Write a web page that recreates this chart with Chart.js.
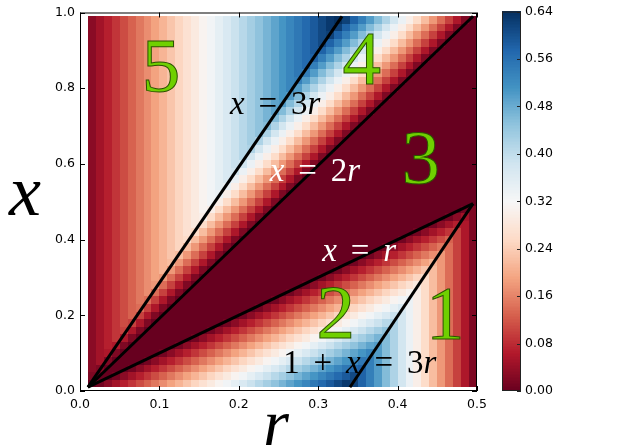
<!DOCTYPE html>
<html>
<head>
<meta charset="utf-8">
<script src="https://cdn.jsdelivr.net/npm/chart.js@4.4.1/dist/chart.umd.min.js"></script>
<style>
  html, body { margin: 0; padding: 0; background: #fff; }
  #wrap { position: relative; width: 640px; height: 448px; }
  #wrap canvas { position: absolute; left: 0; top: 0; }
</style>
</head>
<body>
<div id="wrap">
  <canvas id="heat" width="640" height="448"></canvas>
  <canvas id="cbar" width="640" height="448"></canvas>
</div>
<script>
// axis ticks
const rTicks = [0.0, 0.1, 0.2, 0.3, 0.4, 0.5];
const xTicks = [0.0, 0.2, 0.4, 0.6, 0.8, 1.0];
const cbTicks = [0.00, 0.08, 0.16, 0.24, 0.32, 0.40, 0.48, 0.56, 0.64];
const CB_MAX = 0.64;

// cell centres of the grid (r across, x from top row down)
const rCenters = [0.015,0.025,0.035,0.045,0.055,0.065,0.075,0.085,0.095,0.105,0.115,0.125,0.135,0.145,0.155,0.165,0.175,0.185,0.195,0.205,0.215,0.225,0.235,0.245,0.255,0.265,0.275,0.285,0.295,0.305,0.315,0.325,0.335,0.345,0.355,0.365,0.375,0.385,0.395,0.405,0.415,0.425,0.435,0.445,0.455,0.465,0.475,0.485,0.495];
const xCenters = [0.98,0.96,0.94,0.92,0.90,0.88,0.86,0.84,0.82,0.80,0.78,0.76,0.74,0.72,0.70,0.68,0.66,0.64,0.62,0.60,0.58,0.56,0.54,0.52,0.50,0.48,0.46,0.44,0.42,0.40,0.38,0.36,0.34,0.32,0.30,0.28,0.26,0.24,0.22,0.20,0.18,0.16,0.14,0.12,0.10,0.08,0.06,0.04,0.02];
const R_HALF = 0.005, X_HALF = 0.01;

// cell values in hundredths, one row per xCenters entry
const heat = [
  [3,5,7,9,11,13,15,17,19,21,23,25,27,29,31,33,35,37,39,41,43,45,47,49,51,53,55,57,59,61,63,65, 62,58,54,50,46,42,38,34,30,26,22,18,14,10,6,2, 0],
  [3,5,7,9,11,13,15,17,19,21,23,25,27,29,31,33,35,37,39,41,43,45,47,49,51,53,55,57,59,61,63, 62,58,54,50,46,42,38,34,30,26,22,18,14,10,6,2, 0,0],
  [3,5,7,9,11,13,15,17,19,21,23,25,27,29,31,33,35,37,39,41,43,45,47,49,51,53,55,57,59,61, 62,58,54,50,46,42,38,34,30,26,22,18,14,10,6,2, 0,0,0],
  [3,5,7,9,11,13,15,17,19,21,23,25,27,29,31,33,35,37,39,41,43,45,47,49,51,53,55,57,59,61, 58,54,50,46,42,38,34,30,26,22,18,14,10,6,2, 0,0,0,0],
  [3,5,7,9,11,13,15,17,19,21,23,25,27,29,31,33,35,37,39,41,43,45,47,49,51,53,55,57,59, 58,54,50,46,42,38,34,30,26,22,18,14,10,6,2, 0,0,0,0,0],
  [3,5,7,9,11,13,15,17,19,21,23,25,27,29,31,33,35,37,39,41,43,45,47,49,51,53,55,57, 58,54,50,46,42,38,34,30,26,22,18,14,10,6,2, 0,0,0,0,0, 0],
  [3,5,7,9,11,13,15,17,19,21,23,25,27,29,31,33,35,37,39,41,43,45,47,49,51,53,55,57, 54,50,46,42,38,34,30,26,22,18,14,10,6,2, 0,0,0,0,0, 0,0],
  [3,5,7,9,11,13,15,17,19,21,23,25,27,29,31,33,35,37,39,41,43,45,47,49,51,53,55, 54,50,46,42,38,34,30,26,22,18,14,10,6,2, 0,0,0,0,0, 0,0,0],
  [3,5,7,9,11,13,15,17,19,21,23,25,27,29,31,33,35,37,39,41,43,45,47,49,51,53, 54,50,46,42,38,34,30,26,22,18,14,10,6,2, 0,0,0,0,0, 0,0,0,0],
  [3,5,7,9,11,13,15,17,19,21,23,25,27,29,31,33,35,37,39,41,43,45,47,49,51,53, 50,46,42,38,34,30,26,22,18,14,10,6,2, 0,0,0,0,0, 0,0,0,0,0],
  [3,5,7,9,11,13,15,17,19,21,23,25,27,29,31,33,35,37,39,41,43,45,47,49,51, 50,46,42,38,34,30,26,22,18,14,10,6,2, 0,0,0,0,0, 0,0,0,0,0, 0],
  [3,5,7,9,11,13,15,17,19,21,23,25,27,29,31,33,35,37,39,41,43,45,47,49, 50,46,42,38,34,30,26,22,18,14,10,6,2, 0,0,0,0,0, 0,0,0,0,0, 0,0],
  [3,5,7,9,11,13,15,17,19,21,23,25,27,29,31,33,35,37,39,41,43,45,47,49, 46,42,38,34,30,26,22,18,14,10,6,2, 0,0,0,0,0, 0,0,0,0,0, 0,0,0],
  [3,5,7,9,11,13,15,17,19,21,23,25,27,29,31,33,35,37,39,41,43,45,47, 46,42,38,34,30,26,22,18,14,10,6,2, 0,0,0,0,0, 0,0,0,0,0, 0,0,0,0],
  [3,5,7,9,11,13,15,17,19,21,23,25,27,29,31,33,35,37,39,41,43,45, 46,42,38,34,30,26,22,18,14,10,6,2, 0,0,0,0,0, 0,0,0,0,0, 0,0,0,0,0],
  [3,5,7,9,11,13,15,17,19,21,23,25,27,29,31,33,35,37,39,41,43,45, 42,38,34,30,26,22,18,14,10,6,2, 0,0,0,0,0, 0,0,0,0,0, 0,0,0,0,0, 0],
  [3,5,7,9,11,13,15,17,19,21,23,25,27,29,31,33,35,37,39,41,43, 42,38,34,30,26,22,18,14,10,6,2, 0,0,0,0,0, 0,0,0,0,0, 0,0,0,0,0, 0,0],
  [3,5,7,9,11,13,15,17,19,21,23,25,27,29,31,33,35,37,39,41, 42,38,34,30,26,22,18,14,10,6,2, 0,0,0,0,0, 0,0,0,0,0, 0,0,0,0,0, 0,0,0],
  [3,5,7,9,11,13,15,17,19,21,23,25,27,29,31,33,35,37,39,41, 38,34,30,26,22,18,14,10,6,2, 0,0,0,0,0, 0,0,0,0,0, 0,0,0,0,0, 0,0,0,0],
  [3,5,7,9,11,13,15,17,19,21,23,25,27,29,31,33,35,37,39, 38,34,30,26,22,18,14,10,6,2, 0,0,0,0,0, 0,0,0,0,0, 0,0,0,0,0, 0,0,0,0,0],
  [3,5,7,9,11,13,15,17,19,21,23,25,27,29,31,33,35,37, 38,34,30,26,22,18,14,10,6,2, 0,0,0,0,0, 0,0,0,0,0, 0,0,0,0,0, 0,0,0,0,0, 0],
  [3,5,7,9,11,13,15,17,19,21,23,25,27,29,31,33,35,37, 34,30,26,22,18,14,10,6,2, 0,0,0,0,0, 0,0,0,0,0, 0,0,0,0,0, 0,0,0,0,0, 0,0],
  [3,5,7,9,11,13,15,17,19,21,23,25,27,29,31,33,35, 34,30,26,22,18,14,10,6,2, 0,0,0,0,0, 0,0,0,0,0, 0,0,0,0,0, 0,0,0,0,0, 0,0,0],
  [3,5,7,9,11,13,15,17,19,21,23,25,27,29,31,33, 34,30,26,22,18,14,10,6,2, 0,0,0,0,0, 0,0,0,0,0, 0,0,0,0,0, 0,0,0,0,0, 0,0,0,0],
  [3,5,7,9,11,13,15,17,19,21,23,25,27,29,31,33, 30,26,22,18,14,10,6,2, 0,0,0,0,0, 0,0,0,0,0, 0,0,0,0,0, 0,0,0,0,0, 0,0,0,0,0],
  [3,5,7,9,11,13,15,17,19,21,23,25,27,29,31, 30,26,22,18,14,10,6,2, 0,0,0,0,0, 0,0,0,0,0, 0,0,0,0,0, 0,0,0,0,0, 0,0,0,0, 1, 2],
  [3,5,7,9,11,13,15,17,19,21,23,25,27,29, 30,26,22,18,14,10,6,2, 0,0,0,0,0, 0,0,0,0,0, 0,0,0,0,0, 0,0,0,0,0, 0,0,0, 1,3,5, 2],
  [3,5,7,9,11,13,15,17,19,21,23,25,27,29, 26,22,18,14,10,6,2, 0,0,0,0,0, 0,0,0,0,0, 0,0,0,0,0, 0,0,0,0,0, 0,0, 1,3,5,7, 6,2],
  [3,5,7,9,11,13,15,17,19,21,23,25,27, 26,22,18,14,10,6,2, 0,0,0,0,0, 0,0,0,0,0, 0,0,0,0,0, 0,0,0,0,0, 0, 1,3,5,7,9, 10,6,2],
  [3,5,7,9,11,13,15,17,19,21,23,25, 26,22,18,14,10,6,2, 0,0,0,0,0, 0,0,0,0,0, 0,0,0,0,0, 0,0,0,0,0, 1,3,5,7,9,11,13, 10,6,2],
  [3,5,7,9,11,13,15,17,19,21,23,25, 22,18,14,10,6,2, 0,0,0,0,0, 0,0,0,0,0, 0,0,0,0,0, 0,0,0,0, 1,3,5,7,9,11,13,15, 14,10,6,2],
  [3,5,7,9,11,13,15,17,19,21,23, 22,18,14,10,6,2, 0,0,0,0,0, 0,0,0,0,0, 0,0,0,0,0, 0,0,0, 1,3,5,7,9,11,13,15,17, 18,14,10,6,2],
  [3,5,7,9,11,13,15,17,19,21, 22,18,14,10,6,2, 0,0,0,0,0, 0,0,0,0,0, 0,0,0,0,0, 0,0, 1,3,5,7,9,11,13,15,17,19,21, 18,14,10,6,2],
  [3,5,7,9,11,13,15,17,19,21, 18,14,10,6,2, 0,0,0,0,0, 0,0,0,0,0, 0,0,0,0,0, 0, 1,3,5,7,9,11,13,15,17,19,21,23, 22,18,14,10,6,2],
  [3,5,7,9,11,13,15,17,19, 18,14,10,6,2, 0,0,0,0,0, 0,0,0,0,0, 0,0,0,0,0, 1,3,5,7,9,11,13,15,17,19,21,23,25, 26,22,18,14,10,6,2],
  [3,5,7,9,11,13,15,17, 18,14,10,6,2, 0,0,0,0,0, 0,0,0,0,0, 0,0,0,0, 1,3,5,7,9,11,13,15,17,19,21,23,25,27,29, 26,22,18,14,10,6,2],
  [3,5,7,9,11,13,15,17, 14,10,6,2, 0,0,0,0,0, 0,0,0,0,0, 0,0,0, 1,3,5,7,9,11,13,15,17,19,21,23,25,27,29,31, 30,26,22,18,14,10,6,2],
  [3,5,7,9,11,13,15, 14,10,6,2, 0,0,0,0,0, 0,0,0,0,0, 0,0, 1,3,5,7,9,11,13,15,17,19,21,23,25,27,29,31,33, 34,30,26,22,18,14,10,6,2],
  [3,5,7,9,11,13, 14,10,6,2, 0,0,0,0,0, 0,0,0,0,0, 0, 1,3,5,7,9,11,13,15,17,19,21,23,25,27,29,31,33,35,37, 34,30,26,22,18,14,10,6,2],
  [3,5,7,9,11,13, 10,6,2, 0,0,0,0,0, 0,0,0,0,0, 1,3,5,7,9,11,13,15,17,19,21,23,25,27,29,31,33,35,37,39, 38,34,30,26,22,18,14,10,6,2],
  [3,5,7,9,11, 10,6,2, 0,0,0,0,0, 0,0,0,0, 1,3,5,7,9,11,13,15,17,19,21,23,25,27,29,31,33,35,37,39,41, 42,38,34,30,26,22,18,14,10,6,2],
  [3,5,7,9, 10,6,2, 0,0,0,0,0, 0,0,0, 1,3,5,7,9,11,13,15,17,19,21,23,25,27,29,31,33,35,37,39,41,43,45, 42,38,34,30,26,22,18,14,10,6,2],
  [3,5,7,9, 6,2, 0,0,0,0,0, 0,0, 1,3,5,7,9,11,13,15,17,19,21,23,25,27,29,31,33,35,37,39,41,43,45,47, 46,42,38,34,30,26,22,18,14,10,6,2],
  [3,5,7, 6,2, 0,0,0,0,0, 0, 1,3,5,7,9,11,13,15,17,19,21,23,25,27,29,31,33,35,37,39,41,43,45,47,49, 50,46,42,38,34,30,26,22,18,14,10,6,2],
  [3,5, 6,2, 0,0,0,0,0, 1,3,5,7,9,11,13,15,17,19,21,23,25,27,29,31,33,35,37,39,41,43,45,47,49,51,53, 50,46,42,38,34,30,26,22,18,14,10,6,2],
  [3,5, 2, 0,0,0,0, 1,3,5,7,9,11,13,15,17,19,21,23,25,27,29,31,33,35,37,39,41,43,45,47,49,51,53,55, 54,50,46,42,38,34,30,26,22,18,14,10,6,2],
  [3, 2, 0,0,0, 1,3,5,7,9,11,13,15,17,19,21,23,25,27,29,31,33,35,37,39,41,43,45,47,49,51,53,55,57, 58,54,50,46,42,38,34,30,26,22,18,14,10,6,2],
  [2, 0,0, 1,3,5,7,9,11,13,15,17,19,21,23,25,27,29,31,33,35,37,39,41,43,45,47,49,51,53,55,57,59,61, 58,54,50,46,42,38,34,30,26,22,18,14,10,6,2],
  [0, 1,3,5,7,9,11,13,15,17,19,21,23,25,27,29,31,33,35,37,39,41,43,45,47,49,51,53,55,57,59,61,63, 62,58,54,50,46,42,38,34,30,26,22,18,14,10,6,2]
];
heat.forEach((row, i) => { if (row.length !== rCenters.length) throw new Error('row ' + i + ' has ' + row.length); });

// boundary lines, end points
const lineX3r = [{ x: 0.01, y: 0.01 }, { x: 0.33, y: 0.99 }];
const lineX2r = [{ x: 0.01, y: 0.01 }, { x: 0.495, y: 0.99 }];
const lineXr = [{ x: 0.01, y: 0.01 }, { x: 0.495, y: 0.495 }];
const lineOnePlusX = [{ x: 0.34, y: 0.01 }, { x: 0.495, y: 0.495 }];

// labels placed on the plot
const regionMarks = [
  { text: '5', r: 0.102, x: 0.792 },
  { text: '4', r: 0.355, x: 0.810 },
  { text: '3', r: 0.429, x: 0.549 },
  { text: '2', r: 0.322, x: 0.141 },
  { text: '1', r: 0.460, x: 0.138 }
];
const formulas = [
  { text: 'x = 3r', r: 0.189, x: 0.732, color: '#000' },
  { text: 'x = 2r', r: 0.239, x: 0.555, color: '#fff' },
  { text: 'x = r', r: 0.305, x: 0.344, color: '#fff' },
  { text: '1 + x = 3r', r: 0.256, x: 0.047, color: '#000' }
];

const RDBU = ['#67001f','#b2182b','#d6604d','#f4a582','#fddbc7','#f7f7f7','#d1e5f0','#92c5de','#4393c3','#2166ac','#053061'];
function hexRgb(h) { return [1, 3, 5].map(k => parseInt(h.substr(k, 2), 16)); }
const RDBU_RGB = RDBU.map(hexRgb);
function rdbu(t) {
  t = Math.max(0, Math.min(1, t));
  const p = t * 10, i = Math.min(9, Math.floor(p)), f = p - i;
  const a = RDBU_RGB[i], b = RDBU_RGB[i + 1];
  const c = a.map((v, k) => Math.round(v + (b[k] - v) * f));
  return 'rgb(' + c.join(',') + ')';
}

const SERIF = '"Liberation Serif", "DejaVu Serif", serif';
const FORMULA_SIZE = 33, FORMULA_GAP = 0.42;

function drawFormula(ctx, str, px, py, color) {
  ctx.fillStyle = color;
  ctx.textAlign = 'left';
  ctx.textBaseline = 'alphabetic';
  let cx = px;
  str.split(' ').forEach((tok, k) => {
    if (k > 0) cx += FORMULA_SIZE * FORMULA_GAP;
    for (const ch of tok) {
      const italic = /[a-z]/.test(ch);
      ctx.font = (italic ? 'italic ' : '') + FORMULA_SIZE + 'px ' + SERIF;
      ctx.fillText(ch, cx, py);
      cx += ctx.measureText(ch).width;
    }
  });
}

const heatmapPlugin = {
  id: 'heatmap',
  beforeDatasetsDraw(chart) {
    const { ctx, scales: { x: xs, y: ys } } = chart;
    ctx.save();
    heat.forEach((row, i) => {
      const top = Math.round(ys.getPixelForValue(xCenters[i] + X_HALF));
      const bot = Math.round(ys.getPixelForValue(xCenters[i] - X_HALF));
      row.forEach((v, j) => {
        const left = Math.round(xs.getPixelForValue(rCenters[j] - R_HALF));
        const right = Math.round(xs.getPixelForValue(rCenters[j] + R_HALF));
        ctx.fillStyle = rdbu(v / 100 / CB_MAX);
        ctx.fillRect(left, top, right - left, bot - top);
      });
    });
    ctx.restore();
  }
};

const labelsPlugin = {
  id: 'labels',
  afterDatasetsDraw(chart) {
    const { ctx, scales: { x: xs, y: ys } } = chart;
    ctx.save();
    formulas.forEach(f => drawFormula(ctx, f.text, xs.getPixelForValue(f.r), ys.getPixelForValue(f.x), f.color));
    ctx.font = '77px ' + SERIF;
    ctx.textAlign = 'center';
    ctx.textBaseline = 'alphabetic';
    ctx.lineWidth = 1;
    ctx.strokeStyle = '#2b5200';
    ctx.fillStyle = '#6fd000';
    regionMarks.forEach(m => {
      const px = xs.getPixelForValue(m.r), py = ys.getPixelForValue(m.x);
      ctx.fillText(m.text, px, py);
      ctx.strokeText(m.text, px, py);
    });
    ctx.restore();
  },
  afterDraw(chart) {
    const { ctx, chartArea: a, scales: { x: xs, y: ys } } = chart;
    ctx.save();
    ctx.strokeStyle = '#000';
    ctx.lineWidth = 1;
    ctx.strokeRect(a.left + 0.5, a.top + 0.5, a.right - a.left - 1, a.bottom - a.top - 1);
    ctx.beginPath();
    rTicks.forEach(v => {
      const px = Math.round(xs.getPixelForValue(v)) + 0.5;
      ctx.moveTo(px, a.bottom); ctx.lineTo(px, a.bottom - 5);
      ctx.moveTo(px, a.top); ctx.lineTo(px, a.top + 5);
    });
    xTicks.forEach(v => {
      const py = Math.round(ys.getPixelForValue(v)) + 0.5;
      ctx.moveTo(a.left, py); ctx.lineTo(a.left + 5, py);
      ctx.moveTo(a.right, py); ctx.lineTo(a.right - 5, py);
    });
    ctx.stroke();
    // axis titles
    ctx.fillStyle = '#000';
    ctx.textAlign = 'center';
    ctx.textBaseline = 'alphabetic';
    ctx.font = 'italic 66px ' + SERIF;
    ctx.fillText('r', 276, 445);
    ctx.font = 'italic 72px ' + SERIF;
    ctx.fillText('x', 25, 215);
    ctx.restore();
  }
};

Chart.defaults.font.family = '"DejaVu Sans", sans-serif';
Chart.defaults.font.size = 12.5;
Chart.defaults.color = '#000';

function lineSet(pts) {
  return { data: pts, showLine: true, borderColor: '#000', borderWidth: 3, pointRadius: 0, fill: false };
}

new Chart(document.getElementById('heat'), {
  type: 'scatter',
  data: { datasets: [lineSet(lineX3r), lineSet(lineX2r), lineSet(lineXr), lineSet(lineOnePlusX)] },
  options: {
    responsive: false,
    animation: false,
    events: [],
    layout: { padding: { left: 0, right: 163, top: 7, bottom: 0 } },
    plugins: { legend: { display: false }, tooltip: { enabled: false } },
    scales: {
      x: {
        type: 'linear', min: 0, max: 0.5,
        grid: { display: false, drawTicks: false }, border: { display: false },
        afterBuildTicks: s => { s.ticks = rTicks.map(v => ({ value: v })); },
        afterFit: s => { s.height = 57; },
        ticks: { padding: 6, maxRotation: 0, autoSkip: false, callback: v => Number(v).toFixed(1) }
      },
      y: {
        type: 'linear', min: 0, max: 1,
        grid: { display: false, drawTicks: false }, border: { display: false },
        afterBuildTicks: s => { s.ticks = xTicks.map(v => ({ value: v })); },
        afterFit: s => { s.width = 80; },
        ticks: { padding: 5, autoSkip: false, callback: v => Number(v).toFixed(1) }
      }
    }
  },
  plugins: [heatmapPlugin, labelsPlugin]
});

const colorbarPlugin = {
  id: 'colorbar',
  beforeDatasetsDraw(chart) {
    const { ctx, chartArea: a, scales: { y } } = chart;
    ctx.save();
    const n = 256;
    for (let k = 0; k < n; k++) {
      const top = Math.floor(y.getPixelForValue(CB_MAX * (k + 1) / n));
      const bot = Math.ceil(y.getPixelForValue(CB_MAX * k / n));
      ctx.fillStyle = rdbu((k + 0.5) / n);
      ctx.fillRect(a.left, top, a.right - a.left, bot - top);
    }
    ctx.strokeStyle = '#222';
    ctx.lineWidth = 1;
    ctx.strokeRect(a.left + 0.5, a.top + 0.5, a.right - a.left - 1, a.bottom - a.top - 1);
    ctx.beginPath();
    cbTicks.forEach(v => {
      const py = Math.round(y.getPixelForValue(v)) + 0.5;
      ctx.moveTo(a.right, py); ctx.lineTo(a.right - 4, py);
    });
    ctx.stroke();
    ctx.restore();
  }
};

new Chart(document.getElementById('cbar'), {
  type: 'scatter',
  data: { datasets: [] },
  options: {
    responsive: false,
    animation: false,
    events: [],
    layout: { padding: { left: 502, right: 59, top: 7, bottom: 57 } },
    plugins: { legend: { display: false }, tooltip: { enabled: false } },
    scales: {
      x: { display: false, min: 0, max: 1 },
      y: {
        position: 'right', min: 0, max: CB_MAX,
        grid: { display: false, drawTicks: false }, border: { display: false },
        afterBuildTicks: s => { s.ticks = cbTicks.map(v => ({ value: v })); },
        afterFit: s => { s.width = 60; },
        ticks: { padding: 4, autoSkip: false, callback: v => Number(v).toFixed(2) }
      }
    }
  },
  plugins: [colorbarPlugin]
});
</script>
</body>
</html>
